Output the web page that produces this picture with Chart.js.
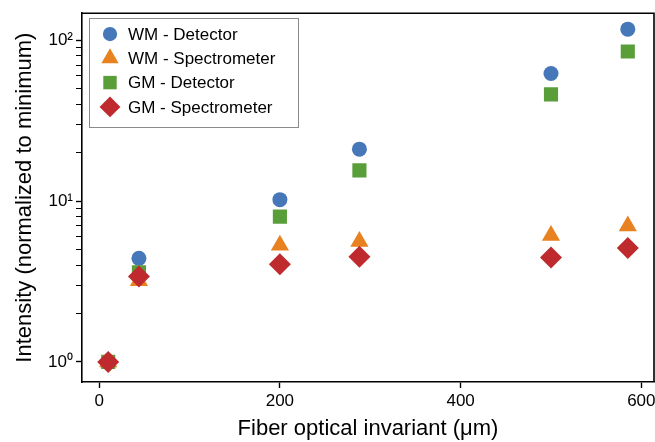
<!DOCTYPE html>
<html>
<head>
<meta charset="utf-8">
<title>Intensity vs fiber optical invariant</title>
<script src="https://cdn.jsdelivr.net/npm/chart.js"></script>
<style>
  html, body { margin: 0; padding: 0; background: #fff; }
  canvas { display: block; }
</style>
</head>
<body>
<canvas id="grafico" width="655" height="442"></canvas>
<script>
// Datos
const invariante = [10, 44, 200, 288, 500, 585];
const wmDetector = [1, 4.4, 10.2, 21, 62, 117];
const wmEspectrometro = [1, 3.2, 5.3, 5.6, 6.1, 7.0];
const gmDetector = [1, 3.6, 8.0, 15.5, 46, 85];
const gmEspectrometro = [1, 3.4, 4.05, 4.5, 4.45, 5.1];
const ticksX = [0, 200, 400, 600];
const etiquetasY = { 1: '10⁰', 10: '10¹', 100: '10²' };

const series = [
    { label: 'WM - Detector', valores: wmDetector, color: '#4677b8', estilo: 'circle', radio: 7.5, orden: 3 },
    { label: 'WM - Spectrometer', valores: wmEspectrometro, color: '#e8811f', estilo: 'triangle', radio: 10.5, orden: 2 },
    { label: 'GM - Detector', valores: gmDetector, color: '#5a9e3a', estilo: 'rect', radio: 10, orden: 1 },
    { label: 'GM - Spectrometer', valores: gmEspectrometro, color: '#bf2a2e', estilo: 'rectRot', radio: 11, orden: 0 }
];

function esTickBonito(v) {
    if (v < 0.999 || v > 100.001) return false;
    const e = Math.floor(Math.log10(v) + 1e-9);
    const s = v / Math.pow(10, e);
    return Math.abs(s - Math.round(s)) < 1e-6;
}

// Marco superior y derecho + leyenda dentro del area
const marcoYLeyenda = {
    id: 'marcoYLeyenda',
    afterDraw(chart) {
        const ctx = chart.ctx;
        const a = chart.chartArea;
        ctx.save();
        ctx.strokeStyle = '#000';
        ctx.lineWidth = 1.6;
        ctx.beginPath();
        ctx.moveTo(a.left, a.top);
        ctx.lineTo(a.right, a.top);
        ctx.lineTo(a.right, a.bottom);
        ctx.stroke();

        // leyenda
        ctx.fillStyle = '#fff';
        ctx.fillRect(89.5, 18.5, 209, 109);
        ctx.strokeStyle = '#8a8a8a';
        ctx.lineWidth = 1;
        ctx.strokeRect(89.5, 18.5, 209, 109);
        ctx.font = '17px "Liberation Sans", Arial, sans-serif';
        ctx.textBaseline = 'middle';
        series.forEach((s, i) => {
            const y = 34 + i * 24.3;
            ctx.fillStyle = s.color;
            Chart.helpers.drawPoint(ctx, { pointStyle: s.estilo, radius: s.radio * 0.95, rotation: 0, borderWidth: 0 }, 110, y);
            ctx.fillStyle = '#000';
            ctx.fillText(s.label, 128, y + 1);
        });
        ctx.restore();
    }
};

function generarGrafico() {
    Chart.defaults.font.family = '"Liberation Sans", Arial, sans-serif';
    Chart.defaults.color = '#000';
    const ctx = document.getElementById('grafico').getContext('2d');

    new Chart(ctx, {
        type: 'scatter',
        data: {
            datasets: series.map(s => ({
                label: s.label,
                data: invariante.map((x, i) => ({ x: x, y: s.valores[i] })),
                backgroundColor: s.color,
                borderColor: s.color,
                borderWidth: 0,
                pointStyle: s.estilo,
                pointRadius: s.radio,
                pointHoverRadius: s.radio,
                order: s.orden
            }))
        },
        options: {
            responsive: false,
            animation: false,
            devicePixelRatio: 1,
            layout: { autoPadding: false, padding: { left: 6, top: 11, right: 1, bottom: 0 } },
            plugins: {
                legend: { display: false },
                tooltip: { enabled: false }
            },
            scales: {
                x: {
                    type: 'linear',
                    position: 'bottom',
                    min: -19,
                    max: 614,
                    afterBuildTicks(scale) { scale.ticks = ticksX.map(v => ({ value: v })); },
                    afterFit(scale) {
                        scale.height = 60;
                        scale.paddingLeft = 0;
                        scale.paddingRight = 0;
                    },
                    border: { display: true, color: '#000', width: 1.6 },
                    grid: { drawOnChartArea: false, tickLength: 6, tickColor: '#000', tickWidth: 1.4 },
                    ticks: {
                        padding: 3,
                        maxRotation: 0,
                        autoSkip: false,
                        font: { size: 17 }
                    },
                    title: {
                        display: true,
                        text: 'Fiber optical invariant (μm)',
                        font: { size: 22 },
                        padding: { top: 4, bottom: 0 }
                    }
                },
                y: {
                    type: 'logarithmic',
                    min: 0.75,
                    max: 147,
                    afterFit(scale) { scale.width = 76; },
                    border: { display: true, color: '#000', width: 1.6 },
                    grid: {
                        drawOnChartArea: false,
                        tickLength: 6,
                        tickColor: c => (c.tick && esTickBonito(c.tick.value)) ? '#000' : 'rgba(0,0,0,0)',
                        tickWidth: c => (c.tick && etiquetasY[c.tick.value]) ? 1.4 : 1
                    },
                    ticks: {
                        autoSkip: false,
                        padding: 3,
                        font: { size: 17 },
                        callback: v => etiquetasY[v] || ''
                    },
                    title: {
                        display: true,
                        text: 'Intensity (normalized to minimum)',
                        font: { size: 22 },
                        padding: { top: 6, bottom: 4 }
                    }
                }
            }
        },
        plugins: [marcoYLeyenda]
    });
}

window.onload = generarGrafico;
</script>
</body>
</html>
